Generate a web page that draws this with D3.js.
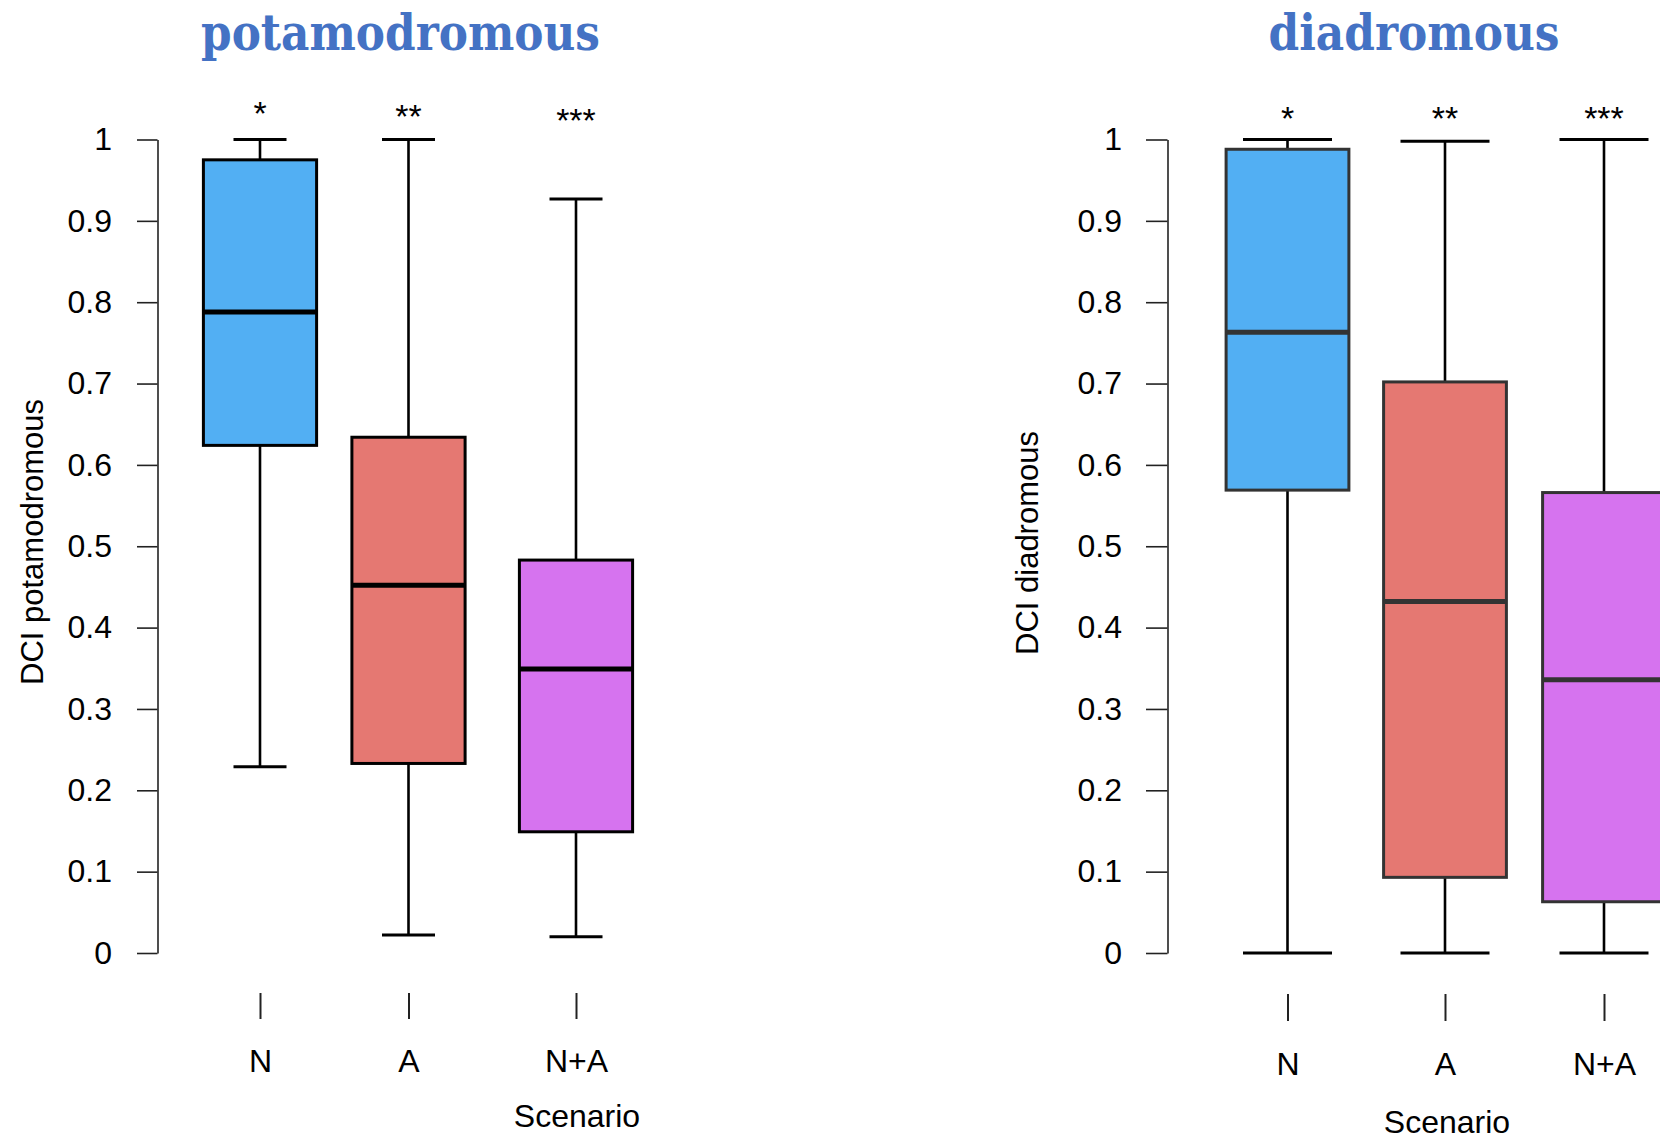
<!DOCTYPE html>
<html>
<head>
<meta charset="utf-8">
<script src="https://cdn.jsdelivr.net/npm/d3@7"></script>
<style>
  body { margin: 0; background: #fff; }
  svg { display: block; }
  .axis text { font-family: "Liberation Sans", Arial, sans-serif; font-size: 32px; fill: #000; }
</style>
</head>
<body>
<script>
// categories / labels
const scenarios = ["N", "A", "N+A"];
const signif = ["*", "**", "***"];
const yTickValues = [0, 0.1, 0.2, 0.3, 0.4, 0.5, 0.6, 0.7, 0.8, 0.9, 1];
const yTickLabels = ["0", "0.1", "0.2", "0.3", "0.4", "0.5", "0.6", "0.7", "0.8", "0.9", "1"];

// potamodromous box stats
const potaLow    = [0.229, 0.022, 0.020];
const potaQ1     = [0.624, 0.233, 0.149];
const potaMedian = [0.788, 0.452, 0.349];
const potaQ3     = [0.975, 0.634, 0.483];
const potaHigh   = [1.0, 1.0, 0.927];

// diadromous box stats
const diaLow    = [0, 0, 0];
const diaQ1     = [0.569, 0.093, 0.063];
const diaMedian = [0.763, 0.432, 0.336];
const diaQ3     = [0.988, 0.702, 0.566];
const diaHigh   = [1.0, 0.998, 1.0];

const boxColors = ["#52aff3", "#e57872", "#d673ef"];

const W = 1660, H = 1139;
const svg = d3.select("body").append("svg")
  .attr("width", W)
  .attr("height", H);

function stats(low, q1, med, q3, high) {
  return scenarios.map(function(s, i) {
    return { name: s, low: low[i], q1: q1[i], med: med[i], q3: q3[i], high: high[i], star: signif[i], color: boxColors[i] };
  });
}

const panels = [
  {
    title: "potamodromous", titleX: 400.5, titleW: 399,
    yLabel: "DCI potamodromous", yLabelX: 43, yLabelY: 542,
    axisX: 157.5, yTop: 139.5, yBot: 953,
    xPos: [260, 408.5, 576], boxHalf: 56.6, capHalf: 26.5,
    boxStroke: "#000", starY: [125, 128, 132],
    xAxisY: 993, xTick: 26, xPad: 30, scenX: 577, scenY: 1127,
    tickPad: 25, tickLen: 20.5,
    data: stats(potaLow, potaQ1, potaMedian, potaQ3, potaHigh)
  },
  {
    title: "diadromous", titleX: 1414, titleW: 291,
    yLabel: "DCI diadromous", yLabelX: 1038, yLabelY: 543,
    axisX: 1167.5, yTop: 139.5, yBot: 953,
    xPos: [1287.5, 1445, 1604], boxHalf: 61.4, capHalf: 44.5,
    boxStroke: "#333", starY: [129.5, 129.5, 129.5],
    xAxisY: 994, xTick: 27, xPad: 31, scenX: 1447, scenY: 1133,
    tickPad: 24, tickLen: 21.5,
    data: stats(diaLow, diaQ1, diaMedian, diaQ3, diaHigh)
  }
];

panels.forEach(function(p) {
  const g = svg.append("g");

  const y = d3.scaleLinear().domain([0, 1]).range([p.yBot, p.yTop]);
  const x = d3.scaleOrdinal().domain(scenarios).range(p.xPos);

  // title
  g.append("text")
    .attr("x", p.titleX)
    .attr("y", 50)
    .attr("text-anchor", "middle")
    .attr("textLength", p.titleW)
    .attr("lengthAdjust", "spacingAndGlyphs")
    .style("font-family", "'DejaVu Serif', serif")
    .style("font-weight", "bold")
    .style("font-size", "50px")
    .style("fill", "#4472c4")
    .text(p.title);

  // y axis
  const yAxis = d3.axisLeft(y)
    .tickValues(yTickValues)
    .tickFormat(function(d, i) { return yTickLabels[i]; })
    .tickSize(p.tickLen)
    .tickSizeOuter(0)
    .tickPadding(p.tickPad);

  const ya = g.append("g")
    .attr("class", "axis")
    .attr("transform", "translate(" + p.axisX + ",0)")
    .call(yAxis);
  ya.select(".domain").attr("stroke", "#222").attr("stroke-width", 1.6);
  ya.selectAll(".tick line").attr("stroke", "#222").attr("stroke-width", 1.6);

  // y label
  g.append("text")
    .attr("transform", "translate(" + p.yLabelX + "," + p.yLabelY + ") rotate(-90)")
    .attr("text-anchor", "middle")
    .style("font-family", "'Liberation Sans', Arial, sans-serif")
    .style("font-size", "31px")
    .text(p.yLabel);

  // x axis (ticks only)
  const xAxis = d3.axisBottom(x)
    .tickSize(p.xTick)
    .tickPadding(p.xPad);
  const xa = g.append("g")
    .attr("class", "axis")
    .attr("transform", "translate(0," + p.xAxisY + ")")
    .call(xAxis);
  xa.select(".domain").remove();
  xa.selectAll(".tick line").attr("stroke", "#222").attr("stroke-width", 2);

  g.append("text")
    .attr("x", p.scenX)
    .attr("y", p.scenY)
    .attr("text-anchor", "middle")
    .style("font-family", "'Liberation Sans', Arial, sans-serif")
    .style("font-size", "32px")
    .text("Scenario");

  // boxes
  const b = g.selectAll(".box")
    .data(p.data)
    .enter()
    .append("g")
    .attr("class", "box");

  // whiskers
  b.append("line")
    .attr("x1", function(d) { return x(d.name); })
    .attr("x2", function(d) { return x(d.name); })
    .attr("y1", function(d) { return y(d.high); })
    .attr("y2", function(d) { return y(d.q3); })
    .attr("stroke", "#000").attr("stroke-width", 2.6);
  b.append("line")
    .attr("x1", function(d) { return x(d.name); })
    .attr("x2", function(d) { return x(d.name); })
    .attr("y1", function(d) { return y(d.q1); })
    .attr("y2", function(d) { return y(d.low); })
    .attr("stroke", "#000").attr("stroke-width", 2.6);
  // caps
  b.append("line")
    .attr("x1", function(d) { return x(d.name) - p.capHalf; })
    .attr("x2", function(d) { return x(d.name) + p.capHalf; })
    .attr("y1", function(d) { return y(d.high); })
    .attr("y2", function(d) { return y(d.high); })
    .attr("stroke", "#000").attr("stroke-width", 3);
  b.append("line")
    .attr("x1", function(d) { return x(d.name) - p.capHalf; })
    .attr("x2", function(d) { return x(d.name) + p.capHalf; })
    .attr("y1", function(d) { return y(d.low); })
    .attr("y2", function(d) { return y(d.low); })
    .attr("stroke", "#000").attr("stroke-width", 3);

  b.append("rect")
    .attr("x", function(d) { return x(d.name) - p.boxHalf; })
    .attr("width", p.boxHalf * 2)
    .attr("y", function(d) { return y(d.q3); })
    .attr("height", function(d) { return y(d.q1) - y(d.q3); })
    .attr("fill", function(d) { return d.color; })
    .attr("stroke", p.boxStroke)
    .attr("stroke-width", 3);

  b.append("line")
    .attr("x1", function(d) { return x(d.name) - p.boxHalf; })
    .attr("x2", function(d) { return x(d.name) + p.boxHalf; })
    .attr("y1", function(d) { return y(d.med); })
    .attr("y2", function(d) { return y(d.med); })
    .attr("stroke", p.boxStroke)
    .attr("stroke-width", 5);

  // significance stars
  b.append("text")
    .attr("x", function(d) { return x(d.name); })
    .attr("y", function(d, i) { return p.starY[i]; })
    .attr("text-anchor", "middle")
    .style("font-family", "'Liberation Sans', Arial, sans-serif")
    .style("font-size", "34px")
    .text(function(d) { return d.star; });
});
</script>
</body>
</html>
